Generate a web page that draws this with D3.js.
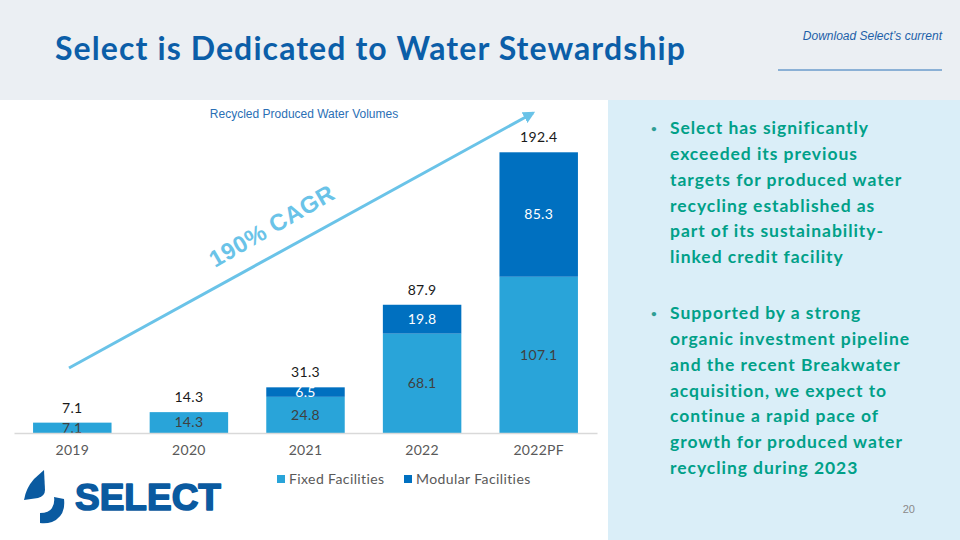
<!DOCTYPE html>
<html>
<head>
<meta charset="utf-8">
<script src="https://cdn.jsdelivr.net/npm/d3@7"></script>
<style>
  html, body { margin: 0; padding: 0; background: #fff; }
  svg { display: block; }
</style>
</head>
<body>
<svg id="chart" width="960" height="540"></svg>
<script>
// ---- data ----
const categories = ["2019", "2020", "2021", "2022", "2022PF"];
const fixedValues = [7.1, 14.3, 24.8, 68.1, 107.1];
const modularValues = [0, 0, 6.5, 19.8, 85.3];
const totalValues = [7.1, 14.3, 31.3, 87.9, 192.4];
const seriesNames = ["Fixed Facilities", "Modular Facilities"];
const bullets = [
  ["Select has significantly", "exceeded its previous", "targets for produced water", "recycling established as", "part of its sustainability-", "linked credit facility"],
  ["Supported by a strong", "organic investment pipeline", "and the recent Breakwater", "acquisition, we expect to", "continue a rapid pace of", "growth for produced water", "recycling during 2023"]
];

const colors = { fixed: "#29a4d9", modular: "#0070c0" };
const svg = d3.select("#chart");

// ---- background panels ----
svg.append("rect").attr("x", 0).attr("y", 0).attr("width", 960).attr("height", 100).attr("fill", "#ebeff3");
svg.append("rect").attr("x", 608).attr("y", 100).attr("width", 352).attr("height", 440).attr("fill", "#daeef8");

// ---- header ----
svg.append("text").attr("x", 55).attr("y", 60)
  .attr("font-family", "Lato, sans-serif").attr("font-weight", 700).attr("font-size", 32)
  .attr("letter-spacing", 1.1)
  .attr("fill", "#0b5ea8").text("Select is Dedicated to Water Stewardship");
svg.append("text").attr("x", 942).attr("y", 40).attr("text-anchor", "end")
  .attr("font-family", "Liberation Sans, Arial, sans-serif").attr("font-style", "italic").attr("font-size", 12)
  .attr("fill", "#1d5fa8").text("Download Select\u2019s current");
svg.append("line").attr("x1", 778).attr("x2", 942).attr("y1", 70).attr("y2", 70)
  .attr("stroke", "#2b72b8").attr("stroke-width", 1);

// ---- chart ----
const x = d3.scaleBand().domain(categories).range([14, 597]).paddingInner(0.327).paddingOuter(0.1635);
const y = d3.scaleLinear().domain([0, 200]).range([433, 141.2]);

svg.append("text").attr("x", 304).attr("y", 118).attr("text-anchor", "middle")
  .attr("font-family", "Liberation Sans, Arial, sans-serif").attr("font-size", 12)
  .attr("fill", "#2a6fb5").text("Recycled Produced Water Volumes");

const rows = categories.map((c, i) => ({ cat: c, fixed: fixedValues[i], modular: modularValues[i], total: totalValues[i] }));
const stack = d3.stack().keys(["fixed", "modular"])(rows);

const g = svg.append("g");
stack.forEach(layer => {
  g.selectAll(null).data(layer).join("rect")
    .attr("x", d => x(d.data.cat))
    .attr("width", x.bandwidth())
    .attr("y", d => y(d[1]))
    .attr("height", d => y(d[0]) - y(d[1]))
    .attr("fill", colors[layer.key]);
});

// axis
const xAxis = svg.append("g").attr("transform", "translate(0,433)")
  .call(d3.axisBottom(x).tickSize(0).tickPadding(12));
xAxis.select(".domain").attr("stroke", "#d9d9d9").attr("stroke-width", 1.5);
xAxis.selectAll("text").attr("font-family", "Lato, sans-serif").attr("font-size", 14)
  .attr("letter-spacing", 0.3).attr("fill", "#595959");

// segment labels
const labelFont = "Lato, sans-serif";
g.selectAll(null).data(rows).join("text")
  .attr("x", d => x(d.cat) + x.bandwidth() / 2)
  .attr("y", d => (y(0) + y(d.fixed)) / 2)
  .attr("dy", "0.35em").attr("text-anchor", "middle")
  .attr("font-family", labelFont).attr("font-size", 14).attr("letter-spacing", 0.3).attr("fill", "#404040")
  .text(d => d.fixed.toFixed(1));
g.selectAll(null).data(rows.filter(d => d.modular > 0)).join("text")
  .attr("x", d => x(d.cat) + x.bandwidth() / 2)
  .attr("y", d => (y(d.fixed) + y(d.fixed + d.modular)) / 2)
  .attr("dy", "0.35em").attr("text-anchor", "middle")
  .attr("font-family", labelFont).attr("font-size", 14).attr("letter-spacing", 0.3).attr("fill", "#ffffff")
  .text(d => d.modular.toFixed(1));
// totals
g.selectAll(null).data(rows).join("text")
  .attr("x", d => x(d.cat) + x.bandwidth() / 2)
  .attr("y", d => y(d.total) - 10)
  .attr("text-anchor", "middle")
  .attr("font-family", labelFont).attr("font-size", 14).attr("letter-spacing", 0.3).attr("fill", "#1a1a1a")
  .text(d => d.total.toFixed(1));

// legend
const legend = svg.append("g").attr("transform", "translate(0,479)");
const legendX = [277, 404];
seriesNames.forEach((n, i) => {
  legend.append("rect").attr("x", legendX[i]).attr("y", -4).attr("width", 8).attr("height", 8)
    .attr("fill", i === 0 ? colors.fixed : colors.modular);
  legend.append("text").attr("x", legendX[i] + 12).attr("y", 0).attr("dy", "0.35em")
    .attr("font-family", "Lato, sans-serif").attr("font-size", 14).attr("letter-spacing", 0.4)
    .attr("fill", "#595959").text(n);
});

// CAGR arrow
const defs = svg.append("defs");
defs.append("marker").attr("id", "ah").attr("viewBox", "0 0 10 10").attr("refX", 8).attr("refY", 5)
  .attr("markerWidth", 4).attr("markerHeight", 4).attr("orient", "auto")
  .append("path").attr("d", "M0,0 L10,5 L0,10 z").attr("fill", "#6ac3e8");
svg.append("line").attr("x1", 69).attr("y1", 368).attr("x2", 533).attr("y2", 113)
  .attr("stroke", "#6ac3e8").attr("stroke-width", 3).attr("marker-end", "url(#ah)");
svg.append("text").attr("transform", "translate(215,268) rotate(-30)")
  .attr("font-family", "Liberation Sans, Arial, sans-serif").attr("font-weight", 700).attr("font-size", 23.5)
  .attr("letter-spacing", 0.5)
  .attr("fill", "#6ac3e8").text("190% CAGR");

// logo
const logo = svg.append("g").attr("fill", "#0a5aa0");
logo.append("path").attr("d", "M44,470 L45,490 Q45,496 38,498 L24,500 Q26,488 34,479 Z");
logo.append("path").attr("d", "M54,497 L64,499 Q66,516 52,522 Q46,524 40,523 L40,513 Q49,513 52,508 Q55,503 54,497 Z");
logo.append("text").attr("x", 75).attr("y", 510)
  .attr("font-family", "Liberation Sans, Arial, sans-serif").attr("font-weight", 700).attr("font-size", 37)
  .attr("stroke", "#0a5aa0").attr("stroke-width", 1.6).attr("stroke-linejoin", "round")
  .text("SELECT");

// bullets
const bulletG = svg.append("g").attr("font-family", "Lato, sans-serif").attr("font-weight", 700)
  .attr("font-size", 17.5).attr("letter-spacing", 0.95).attr("fill", "#00a088");
const bulletStart = [128, 313];
bullets.forEach((lines, bi) => {
  bulletG.append("text").attr("x", 651).attr("y", bulletStart[bi]).attr("dy", "0.35em")
    .attr("font-size", 10).attr("letter-spacing", 0).attr("fill", "#2f9e94").text("\u2022");
  lines.forEach((ln, li) => {
    bulletG.append("text").attr("x", 670).attr("y", bulletStart[bi] + li * 25.8).attr("dy", "0.35em").text(ln);
  });
});

svg.append("text").attr("x", 915).attr("y", 513).attr("text-anchor", "end")
  .attr("font-family", "Liberation Sans, Arial, sans-serif").attr("font-size", 11).attr("fill", "#8a8a8a").text("20");
</script>
</body>
</html>
